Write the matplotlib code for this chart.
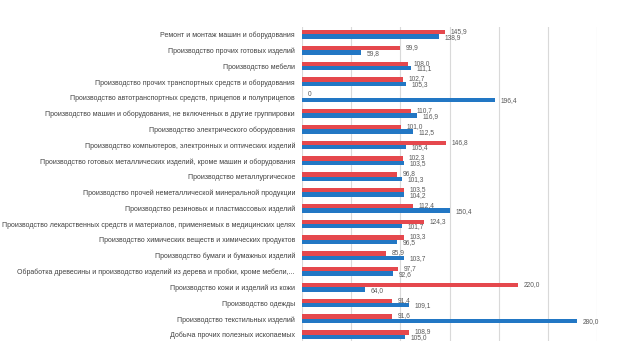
import matplotlib
matplotlib.use("Agg")
import matplotlib.pyplot as plt
import numpy as np

categories = [
    "Ремонт и монтаж машин и оборудования",
    "Производство прочих готовых изделий",
    "Производство мебели",
    "Производство прочих транспортных средств и оборудования",
    "Производство автотранспортных средств, прицепов и полуприцепов",
    "Производство машин и оборудования, не включенных в другие группировки",
    "Производство электрического оборудования",
    "Производство компьютеров, электронных и оптических изделий",
    "Производство готовых металлических изделий, кроме машин и оборудования",
    "Производство металлургическое",
    "Производство прочей неметаллической минеральной продукции",
    "Производство резиновых и пластмассовых изделий",
    "Производство лекарственных средств и материалов, применяемых в медицинских целях",
    "Производство химических веществ и химических продуктов",
    "Производство бумаги и бумажных изделий",
    "Обработка древесины и производство изделий из дерева и пробки, кроме мебели,...",
    "Производство кожи и изделий из кожи",
    "Производство одежды",
    "Производство текстильных изделий",
    "Добыча прочих полезных ископаемых",
]
red_values = [145.9, 99.9, 108.0, 102.7, 0, 110.7, 101.0, 146.8, 102.3, 96.8,
              103.5, 112.4, 124.3, 103.3, 85.9, 97.7, 220.0, 91.4, 91.6, 108.9]
blue_values = [138.9, 59.8, 111.1, 105.3, 196.4, 116.9, 112.5, 105.4, 103.5, 101.3,
               104.2, 150.4, 101.7, 96.5, 103.7, 92.6, 64.0, 109.1, 280.0, 105.0]

RED = "#E5484D"
BLUE = "#2277C4"
FONT = "Liberation Sans"

fig = plt.figure(figsize=(6.18, 3.41), dpi=100)
ax = fig.add_axes([302/618, 0, (597-302)/618, 1 - 27/341])

y = np.arange(len(categories))
h = 0.28
ax.barh(y - h/2, red_values, height=h, color=RED, zorder=3)
ax.barh(y + h/2, blue_values, height=h, color=BLUE, zorder=3)

def fmt(v):
    if v == 0:
        return "0"
    return f"{v:.1f}".replace(".", ",")

for yi, v in zip(y - h/2, red_values):
    ax.annotate(fmt(v), (v, yi), xytext=(4, 0.5), textcoords="offset points",
                va="center", ha="left", fontsize=4.8, color="#595959", family=FONT)
for yi, v in zip(y + h/2, blue_values):
    ax.annotate(fmt(v), (v, yi), xytext=(4, -0.5), textcoords="offset points",
                va="center", ha="left", fontsize=4.8, color="#595959", family=FONT)

ax.set_xlim(0, 300)
ax.set_ylim(19.4, -0.47)
ax.set_xticks(np.arange(0, 301, 50))
ax.set_xticklabels([])
ax.set_yticks(y)
ax.set_yticklabels(categories, fontsize=5.0, color="#404040", family=FONT)
ax.tick_params(axis="both", length=0)
ax.tick_params(axis="y", pad=5)
ax.grid(axis="x", color="#D9D9D9", linewidth=0.8, zorder=0)
for s in ax.spines.values():
    s.set_visible(False)

fig.savefig("out.png", dpi=100)
